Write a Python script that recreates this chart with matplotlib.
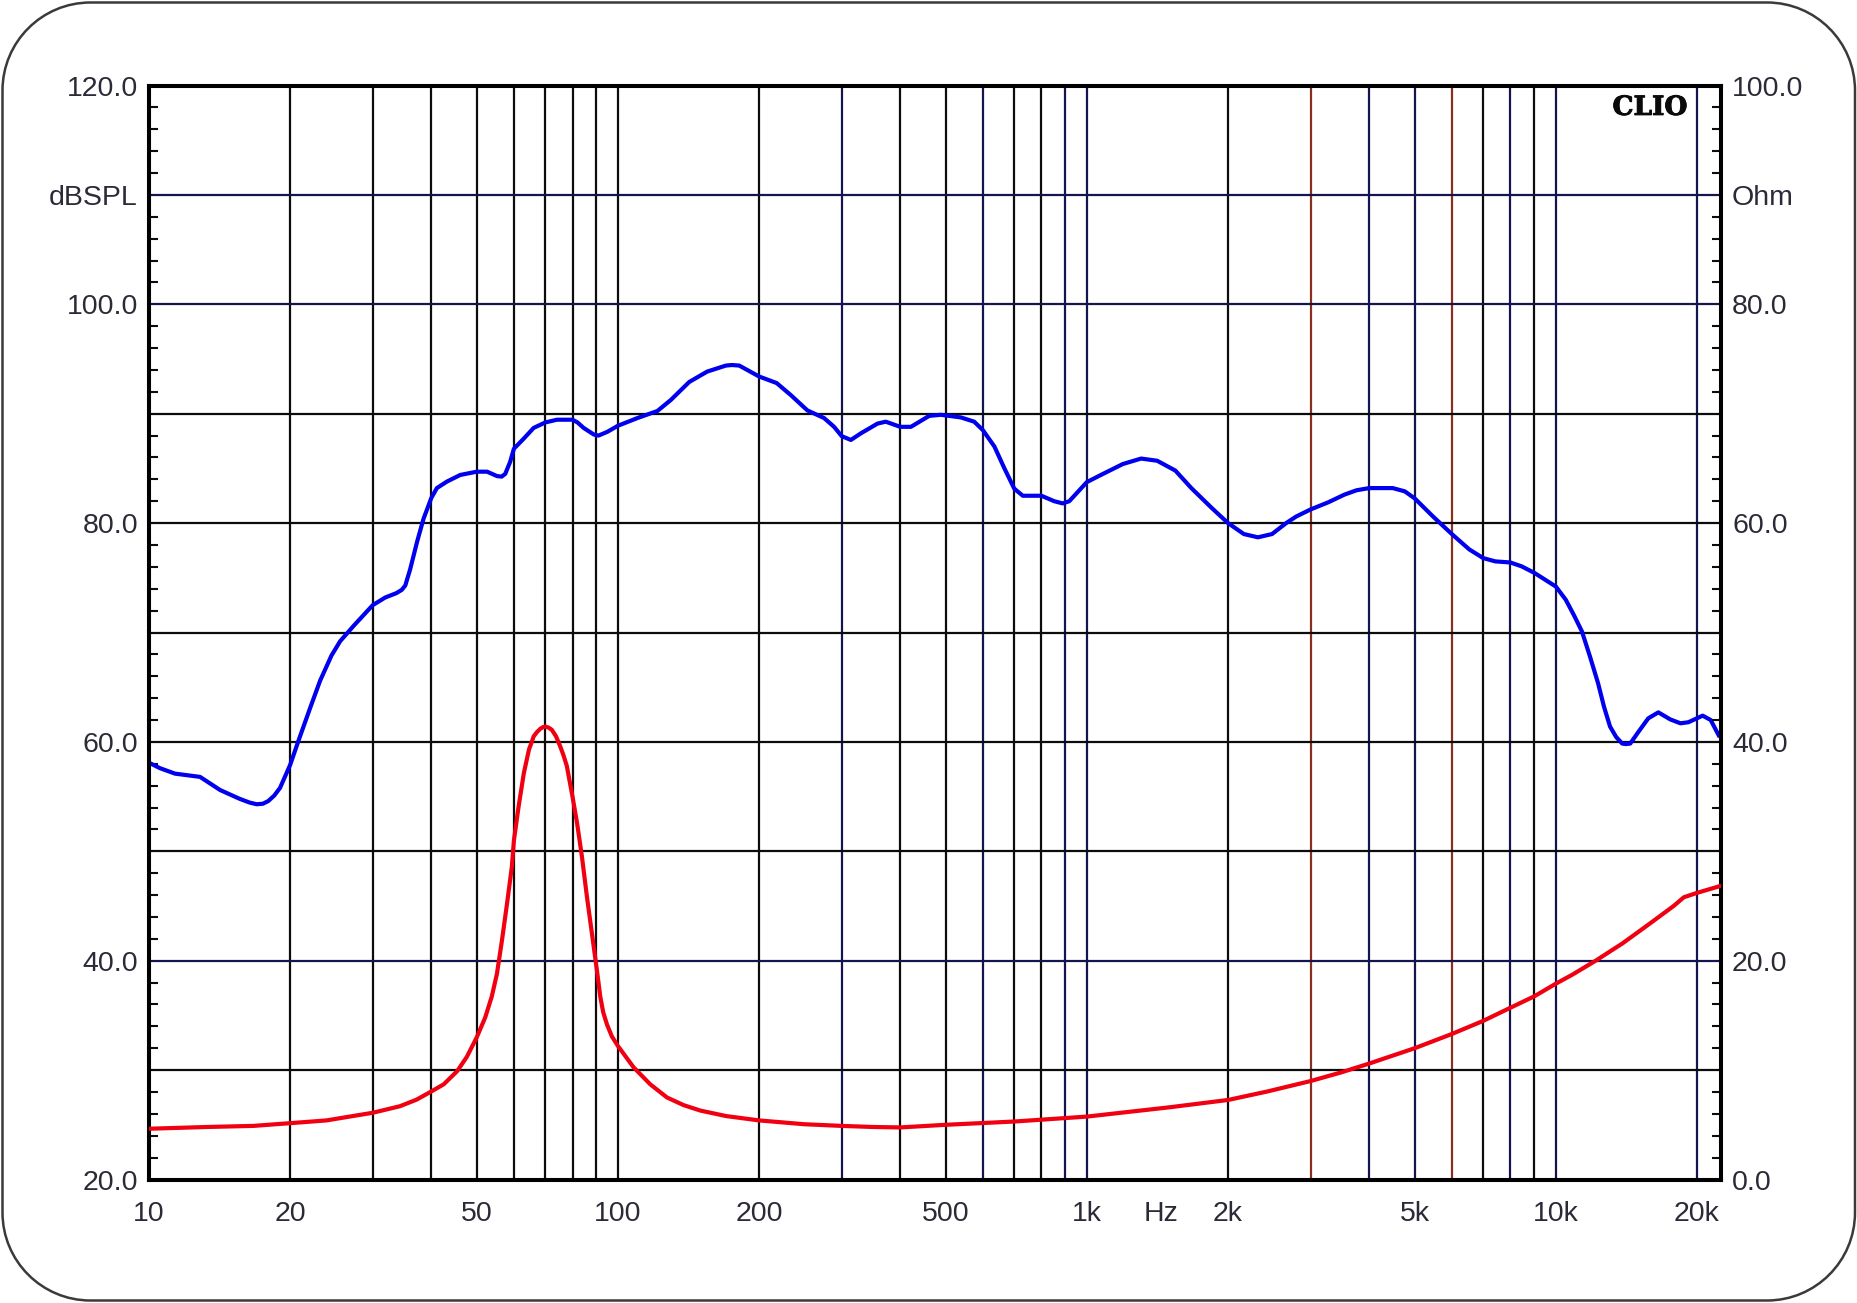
import matplotlib
matplotlib.use("Agg")
import matplotlib.pyplot as plt
import matplotlib.ticker as mticker
import matplotlib.patheffects as pe
from matplotlib.patches import PathPatch
from matplotlib.path import Path
from matplotlib.transforms import IdentityTransform

W, H = 1858, 1303

spl_freq = [10, 10.55, 11.36, 12.1, 12.85, 13.5, 14.18, 15.6, 16.4, 16.97, 17.5, 17.97, 18.5, 19.03, 20, 20.83, 22.06, 23.17, 24.5, 25.56,
            27.3, 30, 31.9, 33.7, 34.6, 35.2, 36.06, 37.3, 38.5, 40, 41.1, 43.2, 46.1, 50, 52.6, 55.2, 56.5, 57.5, 58.9,
            60, 62.9, 66.1, 70, 74.1, 80, 82, 84.5, 88.8, 90.9, 95, 100, 110, 121.4, 129.6, 141.9, 155, 169.9, 175, 181.4,
            200, 218, 233.7, 253.5, 275.2, 289, 300, 313.8, 329.5, 357.8, 372.5, 400, 421.5, 461, 488, 538.5,
            575, 600, 635, 667, 700, 730, 800, 852, 888, 917, 1000, 1071, 1193, 1305, 1412, 1544, 1670, 1844,
            2000, 2161, 2316, 2482, 2660, 2794, 3000, 3271, 3540, 3758, 4000, 4490, 4764, 5000, 5472, 6000,
            6535, 7000, 7430, 8000, 8450, 9000, 10000, 10497, 10924, 11366, 11825, 12306, 12670, 13050, 13445,
            13850, 14100, 14410, 14990, 15740, 16540, 17550, 18440, 19180, 20560, 21390, 22250]
spl_db = [58.1, 57.6, 57.1, 56.95, 56.8, 56.2, 55.6, 54.8, 54.45, 54.3, 54.35, 54.6, 55.1, 55.8, 57.9, 60.1, 63.1, 65.6, 67.9, 69.2,
          70.6, 72.5, 73.2, 73.6, 73.9, 74.3, 75.8, 78.3, 80.4, 82.3, 83.2, 83.8, 84.4, 84.7, 84.7, 84.3, 84.25, 84.5, 85.6,
          86.8, 87.7, 88.7, 89.2, 89.45, 89.45, 89.2, 88.7, 88.1, 88.0, 88.35, 88.9, 89.6, 90.25, 91.25, 92.9, 93.85, 94.4, 94.45, 94.4,
          93.4, 92.8, 91.7, 90.3, 89.6, 88.8, 87.95, 87.6, 88.2, 89.1, 89.27, 88.8, 88.8, 89.8, 89.9, 89.66,
          89.27, 88.5, 87.0, 85.0, 83.15, 82.5, 82.5, 82.0, 81.8, 82.0, 83.75, 84.4, 85.4, 85.9, 85.7, 84.8, 83.2, 81.4,
          80.0, 79.0, 78.7, 79.0, 80.0, 80.6, 81.25, 81.9, 82.6, 83.0, 83.2, 83.2, 82.9, 82.26, 80.6, 79.0,
          77.6, 76.8, 76.5, 76.4, 76.05, 75.45, 74.2, 73.0, 71.6, 70.1, 67.8, 65.35, 63.2, 61.4, 60.45,
          59.85, 59.8, 59.85, 60.9, 62.15, 62.7, 62.05, 61.7, 61.8, 62.4, 62.0, 60.6]

imp_freq = [10, 13.27, 16.7, 20, 23.9, 30, 34.3, 37.2, 40, 42.5, 45.4, 47.6, 50, 52.1, 53.8, 55.2, 56.6, 58, 59.4,
            60, 61.4, 63, 64.6, 65.5, 66.1, 67.2, 68.3, 69.2, 70, 71.2, 72.3, 73.8, 75.3, 76.5, 77.8, 80, 81.8, 83.8, 85.9, 88, 90.2, 91.7, 93, 94.7, 97, 100,
            108, 117.2, 127.2, 138, 149.9, 170, 200, 250, 300, 350, 400, 500, 700, 1000, 1500, 2000, 2422, 3000, 3492, 4000, 5000,
            6000, 7000, 8000, 9000, 10000, 10820, 12160, 13890, 15870, 17830, 18750, 20000, 22300]
imp_ohm = [4.64, 4.8, 4.9, 5.15, 5.4, 6.1, 6.7, 7.3, 8.05, 8.7, 9.9, 11.2, 13.0, 14.8, 16.7, 18.8, 21.9, 25.2, 28.6,
           31.0, 34.1, 37.15, 39.3, 40.0, 40.5, 40.9, 41.2, 41.35, 41.4, 41.3, 41.1, 40.5, 39.6, 38.8, 37.8, 35.0, 32.6, 29.5, 25.8, 22.5, 19.1, 16.7, 15.3, 14.2, 13.1, 12.2,
           10.25, 8.7, 7.5, 6.8, 6.3, 5.8, 5.4, 5.05, 4.9, 4.8, 4.76, 5.0, 5.3, 5.75, 6.6, 7.27, 8.04, 9.0, 9.8, 10.6, 12.0,
           13.3, 14.5, 15.7, 16.75, 17.9, 18.7, 20.0, 21.6, 23.4, 25.0, 25.8, 26.2, 26.8]

x_ticks = [10, 20, 50, 100, 200, 500, 1000, 2000, 5000, 10000, 20000]
x_labels = ['10', '20', '50', '100', '200', '500', '1k', '2k', '5k', '10k', '20k']
x_unit = 'Hz'
x_unit_pos = 1439
x_range = (10, 22500)

spl_range = (20, 120)
imp_range = (0, 100)
spl_ticks = [20, 40, 60, 80, 100, 110, 120]
spl_labels = ['20.0', '40.0', '60.0', '80.0', '100.0', 'dBSPL', '120.0']
imp_ticks = [0, 20, 40, 60, 80, 90, 100]
imp_labels = ['0.0', '20.0', '40.0', '60.0', '80.0', 'Ohm', '100.0']

black_v = [20, 30, 40, 50, 60, 70, 80, 90, 100, 200, 400, 500, 700, 800, 2000, 7000, 9000]
navy_v = [300, 600, 900, 1000, 4000, 5000, 8000, 10000, 20000]
brown_v = [3000, 6000]
black_h = [30, 50, 60, 70, 80, 90]
navy_h = [40, 100, 110]

BLACK, NAVY, BROWN = '#0c0c0c', '#14144e', '#8a2f20'
TXT = '#2b2b38'
plt.rcParams['font.family'] = ['Liberation Sans', 'DejaVu Sans']
FS = 20.5
X_PAD = 15.5


def rounded_frame(x0, y0, x1, y1, r):
    k = r * 0.5523
    verts = [(x0 + r, y0), (x1 - r, y0),
             (x1 - r + k, y0), (x1, y0 + r - k), (x1, y0 + r),
             (x1, y1 - r),
             (x1, y1 - r + k), (x1 - r + k, y1), (x1 - r, y1),
             (x0 + r, y1),
             (x0 + r - k, y1), (x0, y1 - r + k), (x0, y1 - r),
             (x0, y0 + r),
             (x0, y0 + r - k), (x0 + r - k, y0), (x0 + r, y0)]
    codes = [Path.MOVETO, Path.LINETO,
             Path.CURVE4, Path.CURVE4, Path.CURVE4,
             Path.LINETO,
             Path.CURVE4, Path.CURVE4, Path.CURVE4,
             Path.LINETO,
             Path.CURVE4, Path.CURVE4, Path.CURVE4,
             Path.LINETO,
             Path.CURVE4, Path.CURVE4, Path.CURVE4]
    return Path(verts, codes)


fig = plt.figure(figsize=(W / 100, H / 100), dpi=100, facecolor='white')
fig.add_artist(PathPatch(rounded_frame(2.5, 2.5, W - 3, H - 2.5, 88), transform=IdentityTransform(),
                         fc='none', ec='#3a3a3a', lw=1.8))
ax = fig.add_axes([149 / W, 1 - 1179.5 / H, (1721 - 149) / W, 1094 / H])
ax.patch.set_alpha(0)
ax.set_xscale('log')
ax.set_xlim(*x_range)
ax.set_ylim(*spl_range)

for vals, col in ((black_v, BLACK), (navy_v, NAVY), (brown_v, BROWN)):
    for v in vals:
        ax.axvline(v, color=col, lw=1.6, zorder=1)
for vals, col in ((black_h, BLACK), (navy_h, NAVY)):
    for v in vals:
        ax.axhline(v, color=col, lw=1.6, zorder=1)

ax.plot(spl_freq, spl_db, color='#0000ee', lw=3.0, zorder=3, solid_joinstyle='round')

ax.set_xticks(x_ticks)
ax.set_xticklabels(x_labels)
ax.xaxis.set_minor_locator(mticker.NullLocator())
ax.tick_params(axis='x', which='major', length=0, pad=X_PAD, labelsize=FS, labelcolor=TXT)
ax.annotate(x_unit, xy=(x_unit_pos, 0), xycoords=ax.get_xaxis_transform(), xytext=(0, -X_PAD),
            textcoords='offset points', ha='center', va='top', fontsize=FS, color=TXT, annotation_clip=False)

ax.set_yticks(spl_ticks)
ax.set_yticklabels(spl_labels)
ax.set_yticks([v for v in range(22, 120, 2) if v % 10], minor=True)
ax.tick_params(axis='y', which='major', length=0, pad=8, labelsize=FS, labelcolor=TXT)
ax.tick_params(axis='y', which='minor', direction='in', length=6.5, width=1.5, color=BLACK)

ax2 = ax.twinx()
ax2.patch.set_alpha(0)
ax2.set_ylim(*imp_range)
ax2.plot(imp_freq, imp_ohm, color='#f00010', lw=3.0, zorder=3, solid_joinstyle='round')
ax2.set_yticks(imp_ticks)
ax2.set_yticklabels(imp_labels)
ax2.set_yticks([v for v in range(2, 100, 2) if v % 10], minor=True)
ax2.tick_params(axis='y', which='major', length=0, pad=8, labelsize=FS, labelcolor=TXT)
ax2.tick_params(axis='y', which='minor', direction='in', length=6.5, width=1.5, color=BLACK)

for a in (ax, ax2):
    for s in a.spines.values():
        s.set_linewidth(2.9)
        s.set_color('black')

clio = ax2.text(0.9787, 0.980, 'CLIO', transform=ax2.transAxes, ha='right', va='center',
                family='DejaVu Serif', weight='bold', fontsize=19, color='#0a0a0a', zorder=5)
clio.set_path_effects([pe.withStroke(linewidth=0.7, foreground='#0a0a0a')])

fig.savefig('out.png', dpi=100, facecolor='white')
